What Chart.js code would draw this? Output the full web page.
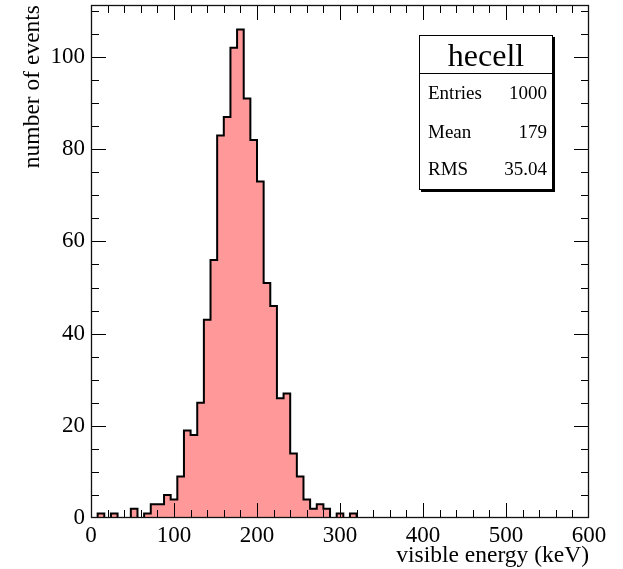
<!DOCTYPE html>
<html><head><meta charset="utf-8">
<script src="https://cdn.jsdelivr.net/npm/chart.js@4.4.1/dist/chart.umd.min.js"></script>
<style>html,body{margin:0;padding:0;background:#fff;}canvas{display:block;}</style>
</head><body>
<canvas id="c" width="623" height="569"></canvas>
<script>
const histName = "hecell";
const xTitle = "visible energy (keV)";
const yTitle = "number of events";
const binLowEdges = [0,8,16,24,32,40,48,56,64,72,80,88,96,104,112,120,128,136,144,152,
  160,168,176,184,192,200,208,216,224,232,240,248,256,264,272,280,288,296,304,312,
  320,328,336,344,352,360,368,376,384,392,400,408,416,424,432,440,448,456,464,472,
  480,488,496,504,512,520,528,536,544,552,560,568,576,584,592];
const xMax = 600;
const counts = [0,1,0,1,0,0,2,0,1,3,3,5,4,9,19,18,25,43,56,83,
  87,102,106,91,82,73,51,46,26,27,14,9,4,2,3,2,0,1,0,1,
  0,0,0,0,0,0,0,0,0,0,0,0,0,0,0,0,0,0,0,0,
  0,0,0,0,0,0,0,0,0,0,0,0,0,0,0];
const xTickValues = [0,100,200,300,400,500,600];
const yTickValues = [0,20,40,60,80,100];
const yMax = 111.3;
const statsLabels = ["Entries","Mean","RMS"];
const statsValues = ["1000","179","35.04"];

const SERIF = "'Liberation Serif', 'DejaVu Serif', serif";

const points = binLowEdges.map((x, i) => ({x: x, y: counts[i]}));
points.push({x: xMax, y: 0});

const rootAxes = {
  id: 'rootAxes',
  afterDatasetsDraw(chart) {
    const {ctx, chartArea: a, scales: {x, y}} = chart;
    ctx.save();
    ctx.strokeStyle = '#000';
    ctx.lineWidth = 1;
    ctx.beginPath();
    for (let v = 20; v < xMax; v += 20) {
      const px = Math.round(x.getPixelForValue(v)) + 0.5;
      const len = (v % 100 === 0) ? 15 : 8;
      ctx.moveTo(px, a.bottom); ctx.lineTo(px, a.bottom - len);
      ctx.moveTo(px, a.top); ctx.lineTo(px, a.top + len);
    }
    for (let v = 5; v <= 110; v += 5) {
      const py = Math.round(y.getPixelForValue(v)) + 0.5;
      const len = (v % 20 === 0) ? 15 : 8;
      ctx.moveTo(a.left, py); ctx.lineTo(a.left + len, py);
      ctx.moveTo(a.right, py); ctx.lineTo(a.right - len, py);
    }
    ctx.stroke();
    ctx.lineWidth = 1.3;
    ctx.strokeStyle = '#111';
    ctx.strokeRect(a.left + 0.5, a.top + 0.5, a.right - a.left - 1, a.bottom - a.top - 1);
    ctx.restore();
  }
};

const statsBox = {
  id: 'statsBox',
  afterDraw(chart) {
    const ctx = chart.ctx;
    const L = 419, T = 35, R = 553, B = 190, D = 73;
    ctx.save();
    ctx.fillStyle = '#000';
    ctx.fillRect(L + 2, T + 2, R - L, B - T);
    ctx.fillStyle = '#fff';
    ctx.fillRect(L, T, R - L, B - T);
    ctx.strokeStyle = '#000';
    ctx.lineWidth = 1;
    ctx.strokeRect(L + 0.5, T + 0.5, R - L - 1, B - T - 1);
    ctx.beginPath();
    ctx.moveTo(L, D + 0.5); ctx.lineTo(R, D + 0.5);
    ctx.stroke();
    ctx.fillStyle = '#000';
    ctx.textBaseline = 'alphabetic';
    ctx.font = "32px " + SERIF;
    ctx.textAlign = 'center';
    ctx.fillText(histName, (L + R) / 2, 66);
    ctx.font = "19px " + SERIF;
    const baselines = [99, 138, 175];
    statsLabels.forEach((lab, i) => {
      ctx.textAlign = 'left';
      ctx.fillText(lab, L + 9, baselines[i]);
      ctx.textAlign = 'right';
      ctx.fillText(statsValues[i], R - 6, baselines[i]);
    });
    ctx.restore();
  }
};

new Chart(document.getElementById('c'), {
  type: 'line',
  data: {
    datasets: [{
      data: points,
      stepped: true,
      fill: 'origin',
      backgroundColor: '#ff9999',
      borderColor: '#000',
      borderWidth: 2,
      pointRadius: 0,
      tension: 0
    }]
  },
  options: {
    responsive: false,
    animation: false,
    devicePixelRatio: 1,
    layout: {padding: {top: 5, right: 34, left: 0, bottom: 0}},
    plugins: {legend: {display: false}, tooltip: {enabled: false}},
    scales: {
      x: {
        type: 'linear', min: 0, max: xMax,
        grid: {display: false, drawTicks: false},
        border: {display: false},
        ticks: {color: '#000', font: {family: SERIF, size: 23}, padding: 4, maxRotation: 0, autoSkip: false},
        afterBuildTicks(s) { s.ticks = xTickValues.map(v => ({value: v})); },
        afterFit(s) { s.height = 51; s.paddingLeft = 0; s.paddingRight = 0; },
        title: {display: true, text: xTitle, align: 'end', color: '#000',
          font: {family: SERIF, size: 23.5, lineHeight: 1.1}, padding: {top: 0, bottom: 0}}
      },
      y: {
        type: 'linear', min: 0, max: yMax,
        grid: {display: false, drawTicks: false},
        border: {display: false},
        ticks: {color: '#000', font: {family: SERIF, size: 23}, padding: 6, autoSkip: false},
        afterBuildTicks(s) { s.ticks = yTickValues.map(v => ({value: v})); },
        afterFit(s) { s.width = 91; s.paddingTop = 0; s.paddingBottom = 0; },
        title: {display: true, text: yTitle, align: 'end', color: '#000',
          font: {family: SERIF, size: 23.5, lineHeight: 1.1}, padding: {top: 20, bottom: 0}}
      }
    }
  },
  plugins: [rootAxes, statsBox]
});
</script>
</body></html>
